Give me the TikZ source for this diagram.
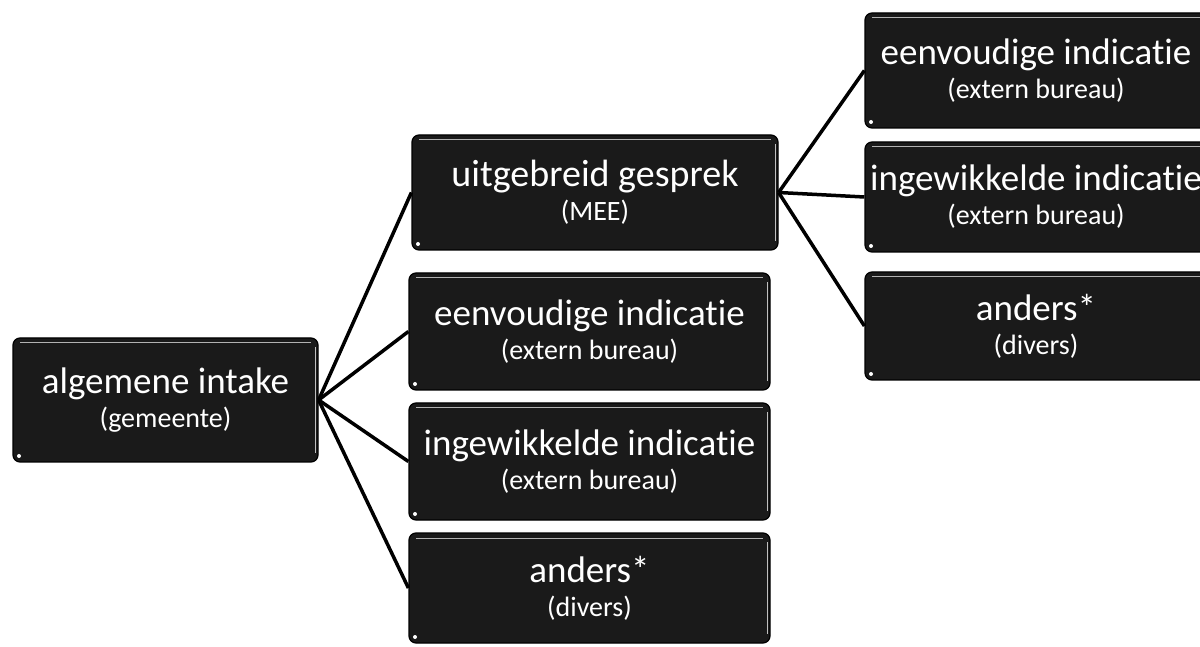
\documentclass[tikz,border=0pt]{standalone}
\usepackage{fontspec}
\setmainfont{Carlito}[Ligatures={NoCommon}]
\begin{document}
\begin{tikzpicture}[x=1pt,y=1pt,
  box/.style={draw=black, line width=1.2pt, fill={rgb,255:red,26;green,26;blue,26},
    rounded corners=7pt, text=white, align=center, inner sep=0pt,
    font=\fontsize{28}{34}\selectfont,
    path picture={
      \draw[gray!60, line width=1pt] ([xshift=7pt,yshift=-5pt]path picture bounding box.north west) -- ([xshift=-7pt,yshift=-5pt]path picture bounding box.north east);
      \draw[gray!50, line width=1pt] ([xshift=-3pt,yshift=-9pt]path picture bounding box.north east) -- ([xshift=-3pt,yshift=9pt]path picture bounding box.south east);
      \fill[white] ([xshift=6pt,yshift=6pt]path picture bounding box.south west) circle (2pt);
    }},
  link/.style={line width=3.5pt, black}]
\clip (0,0) rectangle (1200,646);
\fill[white] (0,0) rectangle (1200,646);

\node[box, minimum width=305, minimum height=124] (root) at (165.5,246)
  {{\fontsize{37}{40}\selectfont algemene intake}\\(gemeente)};

\node[box, minimum width=366, minimum height=115] (b1) at (595,453.5)
  {{\fontsize{38}{40}\selectfont uitgebreid gesprek}\\(MEE)};
\node[box, minimum width=361, minimum height=117] (b2) at (589.5,314.5)
  {{\fontsize{37}{40}\selectfont eenvoudige indicatie}\\(extern bureau)};
\node[box, minimum width=361, minimum height=117] (b3) at (589.5,184.5)
  {{\fontsize{37}{40}\selectfont ingewikkelde indicatie}\\(extern bureau)};
\node[box, minimum width=361, minimum height=110] (b4) at (589.5,58)
  {{\fontsize{37}{40}\selectfont anders*}\\(divers)};

\node[box, minimum width=342, minimum height=115] (r1) at (1036,575.5)
  {{\fontsize{37}{40}\selectfont eenvoudige indicatie}\\(extern bureau)};
\node[box, minimum width=342, minimum height=110] (r2) at (1036,449)
  {{\fontsize{37}{40}\selectfont ingewikkelde indicatie}\\(extern bureau)};
\node[box, minimum width=342, minimum height=108] (r3) at (1036,320)
  {{\fontsize{37}{40}\selectfont anders*}\\(divers)};

\foreach \t in {b1,b2,b3,b4} \draw[link] (root.east) -- (\t.west);
\foreach \t in {r1,r2,r3} \draw[link] (b1.east) -- (\t.west);
\end{tikzpicture}
\end{document}
